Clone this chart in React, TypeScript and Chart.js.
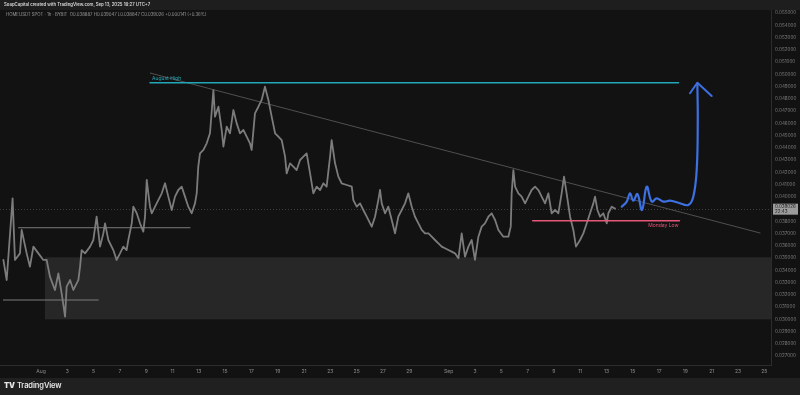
import React, { useEffect, useRef } from 'react';
import { Chart, registerables } from 'chart.js';

Chart.register(...registerables);

// ---- data (x = days since Aug 1, 00:00 UTC+7; y = price in USDT) ----
const priceDays = [
  -2.86, -2.61, -2.16, -1.98, -1.6, -1.47, -1.09, -0.84, -0.58, -0.2, 0.18, 0.43, 0.68, 1.06, 1.32, 1.57,
  1.83, 1.95, 2.21, 2.46, 2.84, 2.97, 3.09, 3.35, 3.73, 3.98, 4.23, 4.49, 4.74, 4.87, 5.12, 5.5, 5.75,
  6.01, 6.26, 6.51, 6.64, 6.9, 7.02, 7.28, 7.53, 7.78, 7.91, 8.04, 8.16, 8.29, 8.42, 8.67, 8.92, 9.18,
  9.43, 9.68, 9.94, 10.19, 10.44, 10.7, 10.95, 11.2, 11.46, 11.71, 11.84, 11.96, 12.09, 12.35, 12.6,
  12.85, 13.11, 13.23, 13.49, 13.74, 13.87, 14.12, 14.37, 14.63, 14.88, 15.13, 15.39, 15.64, 15.89,
  16.02, 16.27, 16.53, 16.78, 17.03, 17.29, 17.54, 17.8, 18.05, 18.3, 18.56, 18.68, 18.94, 19.19, 19.44,
  19.7, 19.95, 20.2, 20.46, 20.71, 20.96, 21.22, 21.47, 21.72, 21.98, 22.1, 22.36, 22.61, 22.86, 23.25,
  23.63, 23.75, 24.01, 24.26, 24.51, 24.77, 25.15, 25.4, 25.65, 25.78, 25.91, 26.16, 26.41, 26.67, 26.92,
  27.17, 27.43, 27.68, 27.93, 28.19, 28.44, 28.7, 28.95, 29.2, 29.46, 29.71, 29.96, 30.22, 30.47, 30.72,
  30.98, 31.23, 31.48, 31.74, 31.99, 32.24, 32.5, 32.75, 33.0, 33.26, 33.51, 33.76, 34.02, 34.27, 34.53,
  34.78, 35.16, 35.54, 35.72, 35.79, 35.92, 36.05, 36.3, 36.55, 36.81, 37.06, 37.31, 37.57, 37.82, 38.07,
  38.33, 38.58, 38.83, 39.09, 39.34, 39.59, 39.77, 39.97, 40.23, 40.48, 40.68, 40.99, 41.24, 41.5, 41.75,
  42.0, 42.13, 42.31, 42.51, 42.76, 43.02, 43.14, 43.4, 43.65,
];
const priceClose = [
  0.03484, 0.0332, 0.03987, 0.03484, 0.03538, 0.03729, 0.03538, 0.03429, 0.03593, 0.03538, 0.03484, 0.03484,
  0.03348, 0.03239, 0.03375, 0.03212, 0.03021, 0.03266, 0.0332, 0.03239, 0.0332, 0.03429, 0.03565, 0.03538,
  0.03593, 0.03647, 0.03837, 0.03593, 0.03701, 0.03783, 0.03647, 0.03565, 0.03484, 0.03538, 0.03593, 0.03565,
  0.03647, 0.03783, 0.03919, 0.03865, 0.03783, 0.03715, 0.03837, 0.04137, 0.04028, 0.03919, 0.03865, 0.03919,
  0.03973, 0.04028, 0.0411, 0.04001, 0.03892, 0.04001, 0.04055, 0.04082, 0.04001, 0.03919, 0.03865, 0.03946,
  0.04028, 0.04246, 0.04354, 0.04382, 0.04436, 0.04518, 0.04871, 0.04654, 0.04735, 0.04545, 0.04409, 0.04572,
  0.04518, 0.04708, 0.04599, 0.04518, 0.04545, 0.0449, 0.04436, 0.04382, 0.04681, 0.04735, 0.0479, 0.04899,
  0.0479, 0.04654, 0.04518, 0.0449, 0.04463, 0.04327, 0.04191, 0.04273, 0.04246, 0.04218, 0.043, 0.04327,
  0.04354, 0.04191, 0.04028, 0.04082, 0.04055, 0.0411, 0.04082, 0.04327, 0.04463, 0.04273, 0.04164, 0.0411,
  0.04096, 0.04082, 0.03973, 0.03919, 0.03946, 0.03892, 0.03837, 0.03756, 0.03837, 0.03973, 0.04055, 0.03946,
  0.03865, 0.03919, 0.0381, 0.03701, 0.03837, 0.03892, 0.03946, 0.04028, 0.03919, 0.03837, 0.03783, 0.03729,
  0.03701, 0.03701, 0.03674, 0.03647, 0.0362, 0.03593, 0.03579, 0.03565, 0.03552, 0.03538, 0.03497, 0.03701,
  0.03511, 0.03593, 0.03647, 0.03484, 0.03674, 0.03756, 0.03783, 0.03837, 0.03865, 0.0381, 0.03729, 0.03674,
  0.03674, 0.03756, 0.04028, 0.04218, 0.04082, 0.04028, 0.04001, 0.03946, 0.04001, 0.04055, 0.04082, 0.04055,
  0.04001, 0.03946, 0.04028, 0.03865, 0.03892, 0.03865, 0.04028, 0.04164, 0.04028, 0.03837, 0.03729, 0.03593,
  0.03647, 0.03701, 0.03783, 0.03865, 0.03946, 0.04001, 0.03892, 0.03837, 0.03865, 0.03783, 0.03865, 0.03919,
  0.03903,
];
const lastPrice = 0.039026;

// hand-drawn projection
const projDays = [44.16, 44.54, 44.79, 45.04, 45.35, 45.7, 46.06, 46.44, 46.82, 47.32, 47.83, 48.46, 49.22, 49.6, 49.86, 49.94, 49.91];
const projPrice = [0.03919, 0.0396, 0.04028, 0.03968, 0.04022, 0.03892, 0.04082, 0.0396, 0.03987, 0.0396, 0.03968, 0.03951, 0.03933, 0.04, 0.04218, 0.04627, 0.04926];
const arrowDays = [49.35, 49.91, 51.0];
const arrowPrice = [0.04845, 0.04931, 0.04822];

// drawings
const augustHighDays = [8.29, 48.48];
const augustHighPrice = 0.04931;
const mondayLowDays = [37.39, 48.55];
const mondayLowPrice = 0.03805;
const trendDays = [8.29, 54.68];
const trendPrice = [0.0501, 0.03704];
const rangeHighDays = [-1.72, 11.33];
const rangeHighPrice = 0.03747;
const rangeLowDays = [-2.87, 4.36];
const rangeLowPrice = 0.03157;
const zoneStartDay = 0.3;
const zoneTop = 0.03506;
const zoneBottom = 0.02999;

// axes
const xMin = -3.118;
const xMax = 55.51;
const yMin = 0.026265;
const yMax = 0.055245;
const xTickDays = [0, 2, 4, 6, 8, 10, 12, 14, 16, 18, 20, 22, 24, 26, 28, 31, 33, 35, 37, 39, 41, 43, 45, 47, 49, 51, 53, 55];
const xTickLabels = ['Aug', '3', '5', '7', '9', '11', '13', '15', '17', '19', '21', '23', '25', '27', '29', 'Sep', '3', '5', '7', '9', '11', '13', '15', '17', '19', '21', '23', '25'];
const yTicks = [
  0.027, 0.028, 0.029, 0.03, 0.031, 0.032, 0.033, 0.034, 0.035, 0.036, 0.037, 0.038, 0.039, 0.04, 0.041,
  0.042, 0.043, 0.044, 0.045, 0.046, 0.047, 0.048, 0.049, 0.05, 0.051, 0.052, 0.053, 0.054, 0.055,
];

const FONT = 'Inter, "Liberation Sans", sans-serif';

const pts = (xs: number[], ys: number[] | number) =>
  xs.map((x, i) => ({ x, y: Array.isArray(ys) ? ys[i] : ys }));

const overlayPlugin = {
  id: 'overlay',
  beforeDatasetsDraw(chart: any) {
    const { ctx, chartArea, scales } = chart;
    const x = scales.x;
    const y = scales.y;
    ctx.save();
    const x0 = x.getPixelForValue(zoneStartDay);
    const yt = y.getPixelForValue(zoneTop);
    const yb = y.getPixelForValue(zoneBottom);
    ctx.fillStyle = '#272727';
    ctx.fillRect(x0, yt, chartArea.right - x0, yb - yt);
    const yp = Math.round(y.getPixelForValue(lastPrice)) + 0.5;
    ctx.strokeStyle = '#3e3e3e';
    ctx.lineWidth = 1;
    ctx.setLineDash([1, 2]);
    ctx.beginPath();
    ctx.moveTo(chartArea.left, yp);
    ctx.lineTo(chartArea.right, yp);
    ctx.stroke();
    ctx.restore();
  },
  afterDraw(chart: any) {
    const { ctx, chartArea, scales } = chart;
    const x = scales.x;
    const y = scales.y;
    ctx.save();
    ctx.font = `5px ${FONT}`;
    ctx.textBaseline = 'bottom';
    ctx.textAlign = 'left';
    ctx.fillStyle = '#22a7b8';
    ctx.fillText('August High', x.getPixelForValue(augustHighDays[0]) + 2, y.getPixelForValue(augustHighPrice) - 1.5);
    ctx.textAlign = 'right';
    ctx.textBaseline = 'top';
    ctx.fillStyle = '#e8577a';
    ctx.fillText('Monday Low', x.getPixelForValue(mondayLowDays[1]) - 1, y.getPixelForValue(mondayLowPrice) + 2);
    // price box
    const yp = y.getPixelForValue(lastPrice);
    ctx.fillStyle = '#9c9c9c';
    ctx.fillRect(chartArea.right + 2, yp - 5, 25, 11);
    ctx.fillStyle = '#1a1a1a';
    ctx.textAlign = 'left';
    ctx.textBaseline = 'middle';
    ctx.font = `4.5px ${FONT}`;
    ctx.fillText(lastPrice.toFixed(6), chartArea.right + 4, yp - 2);
    ctx.fillText('22:43', chartArea.right + 4, yp + 3);
    ctx.restore();
  },
};

function PriceChart() {
  const ref = useRef<HTMLCanvasElement | null>(null);
  useEffect(() => {
    document.body.style.margin = '0';
    const canvas = ref.current;
    if (!canvas) return;
    const chart = new Chart(canvas, {
      type: 'line',
      data: {
        datasets: [
          { data: pts(projDays, projPrice), borderColor: '#3d70e0', borderWidth: 2.2, tension: 0.4, order: 0 },
          { data: pts(arrowDays, arrowPrice), borderColor: '#3d70e0', borderWidth: 2, tension: 0, order: 0 },
          { data: pts(augustHighDays, augustHighPrice), borderColor: '#22a7b8', borderWidth: 1.5, order: 1 },
          { data: pts(mondayLowDays, mondayLowPrice), borderColor: '#e8577a', borderWidth: 1.5, order: 1 },
          { data: pts(priceDays, priceClose), borderColor: '#7c7c7c', borderWidth: 1.8, tension: 0, order: 2 },
          { data: pts(trendDays, trendPrice), borderColor: '#505050', borderWidth: 1, order: 3 },
          { data: pts(rangeHighDays, rangeHighPrice), borderColor: '#7c7c7c', borderWidth: 1, order: 3 },
          { data: pts(rangeLowDays, rangeLowPrice), borderColor: '#7c7c7c', borderWidth: 1, order: 3 },
        ],
      } as any,
      options: {
        animation: false,
        responsive: false,
        maintainAspectRatio: false,
        events: [],
        layout: { padding: { top: 10, bottom: 17, left: 0, right: 0 } },
        elements: { point: { radius: 0 }, line: { borderCapStyle: 'round', borderJoinStyle: 'round' } },
        plugins: { legend: { display: false }, tooltip: { enabled: false } },
        scales: {
          x: {
            type: 'linear',
            position: 'bottom',
            min: xMin,
            max: xMax,
            grid: { display: false, drawTicks: false, tickLength: 0 },
            border: { display: true, color: '#2c2c2c' },
            afterBuildTicks: (s: any) => {
              s.ticks = xTickDays.map((v) => ({ value: v }));
            },
            afterFit: (s: any) => {
              s.height = 13;
            },
            ticks: {
              autoSkip: false,
              maxRotation: 0,
              padding: 3,
              color: '#8a8a8a',
              font: { family: FONT, size: 5 },
              callback: (_v: any, i: number) => xTickLabels[i],
            },
          },
          y: {
            type: 'linear',
            position: 'right',
            min: yMin,
            max: yMax,
            grid: { display: false, drawTicks: false, tickLength: 0 },
            border: { display: true, color: '#2c2c2c' },
            afterBuildTicks: (s: any) => {
              s.ticks = yTicks.map((v) => ({ value: v }));
            },
            afterFit: (s: any) => {
              s.width = 29;
            },
            ticks: {
              padding: 4,
              color: '#7e7e7e',
              font: { family: FONT, size: 4.6 },
              callback: (v: any) => Number(v).toFixed(6),
            },
          },
        },
      } as any,
      plugins: [overlayPlugin],
    });
    return () => chart.destroy();
  }, []);
  return <canvas ref={ref} width={800} height={395} style={{ position: 'absolute', left: 0, top: 0, width: 800, height: 395 }} />;
}

export default function App() {
  return (
    <div
      style={{
        position: 'fixed',
        left: 0,
        top: 0,
        width: 800,
        height: 395,
        background: '#121212',
        overflow: 'hidden',
        fontFamily: FONT,
      }}
    >
      <div style={{ position: 'absolute', left: 0, top: 0, width: 800, height: 10, background: '#1e1e1e' }} />
      <div style={{ position: 'absolute', left: 0, top: 378, width: 800, height: 17, background: '#202020' }} />
      <PriceChart />
      <div
        style={{
          position: 'absolute',
          left: 4,
          top: 2,
          fontSize: 4.3,
          lineHeight: '5px',
          color: '#d8d8d8',
          fontWeight: 600,
          whiteSpace: 'nowrap',
        }}
      >
        SoapCapital created with TradingView.com, Sep 13, 2025 16:27 UTC+7
      </div>
      <div
        style={{
          position: 'absolute',
          left: 6,
          top: 12,
          fontSize: 4.3,
          lineHeight: '5px',
          color: '#9a9a9a',
          whiteSpace: 'nowrap',
        }}
      >
        HOMEUSDT SPOT · 1h · BYBIT&nbsp;&nbsp;O0.038887 H0.039047 L0.038847 C0.039026 +0.000141 (+0.36%)
      </div>
      <div
        style={{
          position: 'absolute',
          left: 4,
          top: 381,
          fontSize: 7.5,
          lineHeight: '10px',
          color: '#e6e6e6',
          fontWeight: 600,
          whiteSpace: 'nowrap',
          letterSpacing: -0.1,
        }}
      >
        <span style={{ fontWeight: 900, marginRight: 2 }}>TV</span>TradingView
      </div>
    </div>
  );
}
